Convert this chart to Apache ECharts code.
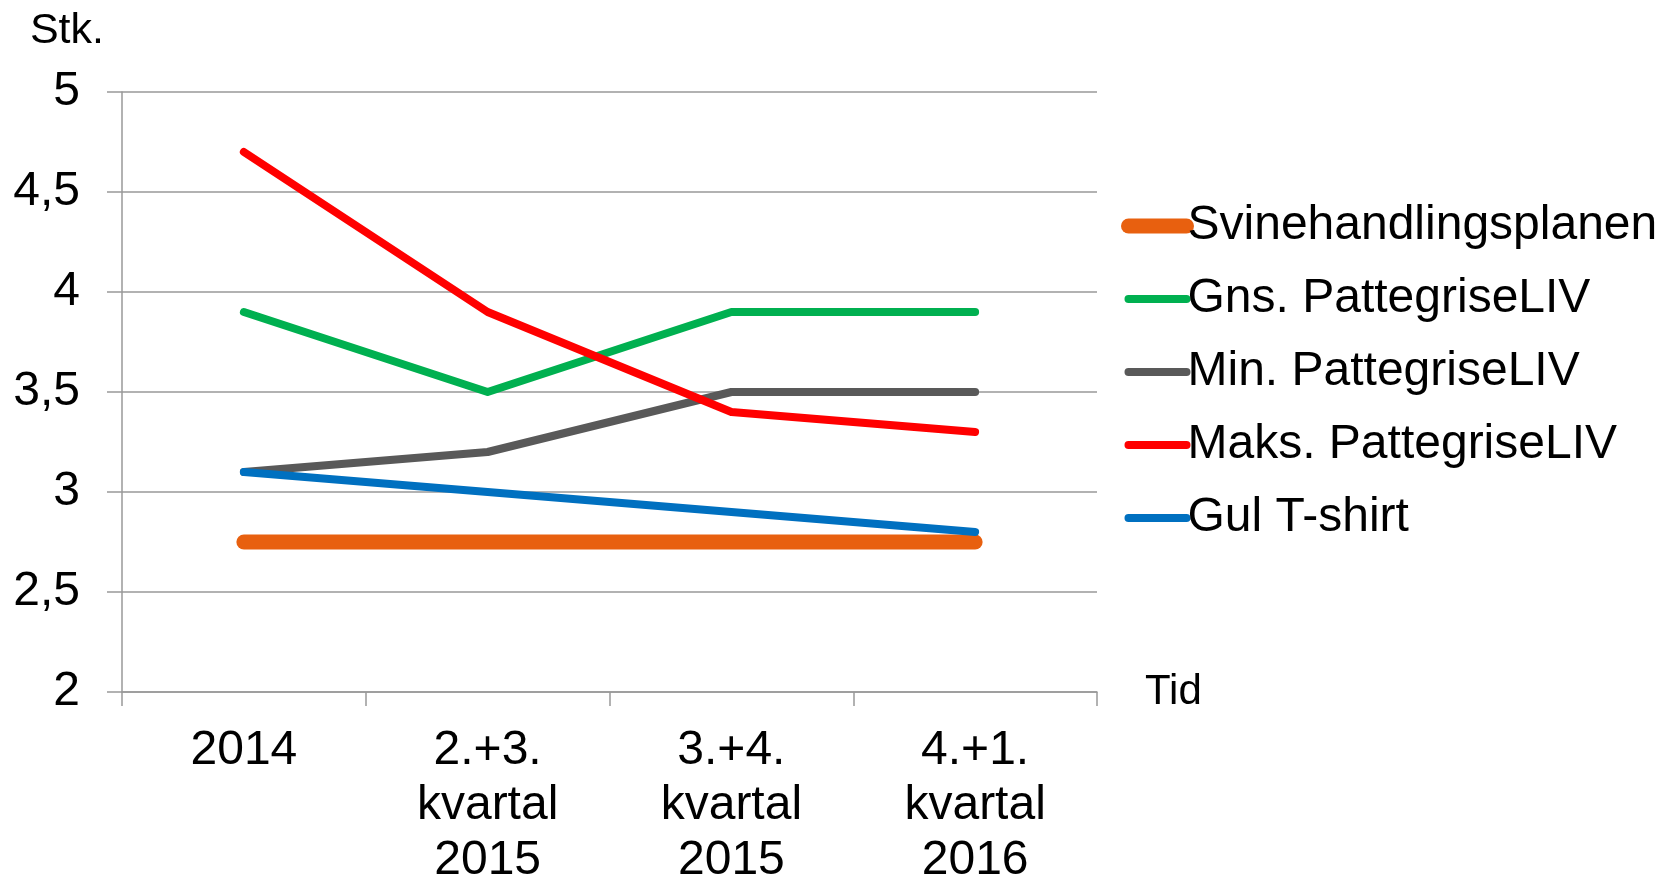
<!DOCTYPE html>
<html>
<head>
<meta charset="utf-8">
<script src="https://cdn.jsdelivr.net/npm/echarts@6/dist/echarts.min.js"></script>
<style>html,body{margin:0;padding:0;background:#fff}#c{width:1672px;height:879px}</style>
</head>
<body>
<div id="c"></div>
<script>
var categories = ['2014', '2.+3.\nkvartal\n2015', '3.+4.\nkvartal\n2015', '4.+1.\nkvartal\n2016'];
var svinehandlingsplanen = [2.75, 2.75, 2.75, 2.75];
var gnsPattegriseLIV = [3.9, 3.5, 3.9, 3.9];
var minPattegriseLIV = [3.1, 3.2, 3.5, 3.5];
var maksPattegriseLIV = [4.7, 3.9, 3.4, 3.3];
var gulTshirt = [3.1, 3.0, 2.9, 2.8];

var FONT = '"Liberation Sans", Arial, sans-serif';
var chart = echarts.init(document.getElementById('c'), null, {renderer: 'canvas'});

function mk(name, data, color, width) {
  return {
    name: name, type: 'line', data: data, symbol: 'none', showSymbol: false,
    lineStyle: {color: color, width: width, cap: 'round', join: 'round'},
    itemStyle: {color: color},
    emphasis: {disabled: true}, animation: false
  };
}

chart.setOption({
  animation: false,
  textStyle: {fontFamily: FONT, color: '#000'},
  grid: {left: 122, right: 575, top: 92, bottom: 187, containLabel: false, outerBoundsMode: 'none'},
  legend: {
    orient: 'vertical', left: 1116, top: 196,
    itemWidth: 58, itemHeight: 20, itemGap: 23,
    lineStyle: {width: 'inherit', cap: 'round'},
    itemStyle: {opacity: 0, borderWidth: 0},
    textStyle: {fontFamily: FONT, fontSize: 48, color: '#000', lineHeight: 50, padding: [0, 0, 0, -4]},
    data: ['Svinehandlingsplanen', 'Gns. PattegriseLIV', 'Min. PattegriseLIV', 'Maks. PattegriseLIV', 'Gul T-shirt']
  },
  xAxis: {
    type: 'category', data: categories, boundaryGap: true,
    name: 'Tid', nameLocation: 'end', nameGap: 48,
    nameTextStyle: {fontFamily: FONT, fontSize: 42, color: '#000', verticalAlign: 'middle', padding: [14, 0, 0, 0]},
    axisLine: {lineStyle: {color: '#999', width: 1.5}},
    axisTick: {show: true, length: 14, alignWithLabel: false, lineStyle: {color: '#999', width: 1.5}},
    axisLabel: {fontFamily: FONT, fontSize: 48, color: '#000', lineHeight: 55, margin: 31, interval: 0},
    splitLine: {show: false}
  },
  yAxis: {
    type: 'value', min: 2, max: 5, interval: 0.5,
    name: 'Stk.', nameLocation: 'end', nameGap: 39,
    nameTextStyle: {fontFamily: FONT, fontSize: 43, color: '#000', align: 'right', padding: [0, 18, 0, 0]},
    axisLine: {show: true, lineStyle: {color: '#999', width: 1.5}},
    axisTick: {show: true, length: 15, lineStyle: {color: '#999', width: 1.5}},
    axisLabel: {fontFamily: FONT, fontSize: 48, color: '#000', margin: 42,
      formatter: function (v) { return String(v).replace('.', ','); }},
    splitLine: {show: true, lineStyle: {color: '#999', width: 1.5}}
  },
  series: [
    mk('Svinehandlingsplanen', svinehandlingsplanen, '#E8600F', 15),
    mk('Gns. PattegriseLIV', gnsPattegriseLIV, '#00B050', 8),
    mk('Min. PattegriseLIV', minPattegriseLIV, '#595959', 8),
    mk('Maks. PattegriseLIV', maksPattegriseLIV, '#FF0000', 8),
    mk('Gul T-shirt', gulTshirt, '#0070C0', 8)
  ]
});
</script>
</body>
</html>
